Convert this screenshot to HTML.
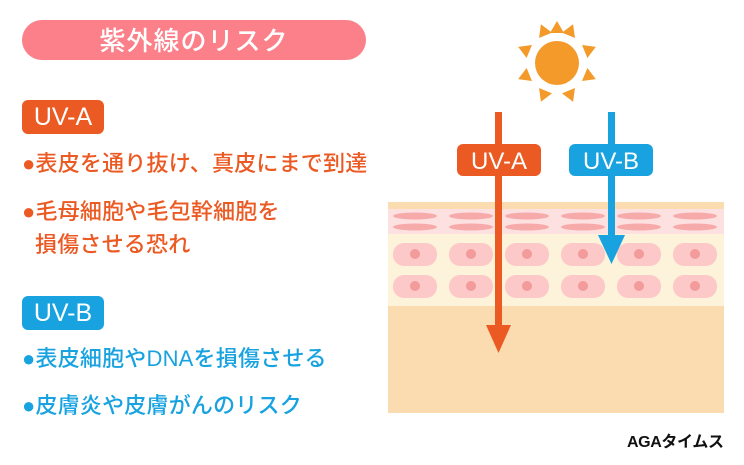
<!DOCTYPE html>
<html><head><meta charset="utf-8"><style>
body{margin:0;width:744px;height:465px;background:#fff;position:relative;overflow:hidden;font-family:"Liberation Sans","Noto Sans CJK JP",sans-serif}
.a{position:absolute;white-space:nowrap}
.t{font-weight:500;font-size:22px;letter-spacing:0.2px}
</style></head><body>
<div class="a" style="left:22px;top:20px;width:344px;height:40px;border-radius:20px;background:#fb8089;color:#fff;font-size:26px;font-weight:500;text-align:center;line-height:40px;letter-spacing:1px;font-family:'Noto Sans CJK JP',sans-serif">紫外線のリスク</div>
<div class="a" style="left:22px;top:100px;width:82px;height:34px;border-radius:6px;background:#ec5a24;color:#fff;font-size:25px;line-height:34px;text-align:center">UV-A</div>
<div class="a t" style="left:22px;top:146px;color:#ec5a24">●表皮を通り抜け、真皮にまで到達</div>
<div class="a t" style="left:22px;top:194px;color:#ec5a24">●毛母細胞や毛包幹細胞を</div>
<div class="a t" style="left:35px;top:227px;color:#ec5a24">損傷させる恐れ</div>
<div class="a" style="left:22px;top:296px;width:82px;height:34px;border-radius:6px;background:#18a3e0;color:#fff;font-size:25px;line-height:34px;text-align:center">UV-B</div>
<div class="a t" style="left:22px;top:341px;color:#18a3e0">●表皮細胞やDNAを損傷させる</div>
<div class="a t" style="left:22px;top:388px;color:#18a3e0">●皮膚炎や皮膚がんのリスク</div>
<svg class="a" style="left:0;top:0" width="744" height="465">
<rect x="388" y="202" width="336" height="211" fill="#fadcb0"/>
<rect x="388" y="209" width="336" height="25" fill="#fde1e1"/>
<rect x="388" y="234" width="336" height="72" fill="#fdf2da"/>
<g fill="#f7aaaa">
<ellipse cx="415" cy="216" rx="22" ry="3.5"/><ellipse cx="471" cy="216" rx="22" ry="3.5"/><ellipse cx="527" cy="216" rx="22" ry="3.5"/><ellipse cx="583" cy="216" rx="22" ry="3.5"/><ellipse cx="639" cy="216" rx="22" ry="3.5"/><ellipse cx="695" cy="216" rx="22" ry="3.5"/>
<ellipse cx="415" cy="227" rx="22" ry="3.5"/><ellipse cx="471" cy="227" rx="22" ry="3.5"/><ellipse cx="527" cy="227" rx="22" ry="3.5"/><ellipse cx="583" cy="227" rx="22" ry="3.5"/><ellipse cx="639" cy="227" rx="22" ry="3.5"/><ellipse cx="695" cy="227" rx="22" ry="3.5"/>
</g>
<g fill="#fdc8c8">
<rect x="393" y="243" width="44" height="23" rx="11"/><rect x="449" y="243" width="44" height="23" rx="11"/><rect x="505" y="243" width="44" height="23" rx="11"/><rect x="561" y="243" width="44" height="23" rx="11"/><rect x="617" y="243" width="44" height="23" rx="11"/><rect x="673" y="243" width="44" height="23" rx="11"/>
<rect x="393" y="275" width="44" height="23" rx="11"/><rect x="449" y="275" width="44" height="23" rx="11"/><rect x="505" y="275" width="44" height="23" rx="11"/><rect x="561" y="275" width="44" height="23" rx="11"/><rect x="617" y="275" width="44" height="23" rx="11"/><rect x="673" y="275" width="44" height="23" rx="11"/>
</g>
<g fill="#f39a9a">
<circle cx="415" cy="254" r="5"/><circle cx="471" cy="254" r="5"/><circle cx="527" cy="254" r="5"/><circle cx="583" cy="254" r="5"/><circle cx="639" cy="254" r="5"/><circle cx="695" cy="254" r="5"/>
<circle cx="415" cy="286" r="5"/><circle cx="471" cy="286" r="5"/><circle cx="527" cy="286" r="5"/><circle cx="583" cy="286" r="5"/><circle cx="639" cy="286" r="5"/><circle cx="695" cy="286" r="5"/>
</g>
<rect x="495" y="112" width="7" height="215" fill="#ec5a24"/>
<polygon points="486,325 511,325 498.5,353" fill="#ec5a24"/>
<rect x="608" y="112" width="7" height="124" fill="#18a3e0"/>
<polygon points="598,235 625,235 611.5,264" fill="#18a3e0"/>
<rect x="457" y="144" width="84" height="32" rx="6" fill="#ec5a24"/>
<text x="499" y="169" fill="#fff" font-size="24" text-anchor="middle" font-family="Liberation Sans,sans-serif">UV-A</text>
<rect x="569" y="144" width="84" height="32" rx="6" fill="#18a3e0"/>
<text x="611" y="169" fill="#fff" font-size="24" text-anchor="middle" font-family="Liberation Sans,sans-serif">UV-B</text>
<g fill="#f39a2a" transform="translate(557,63)">
<circle r="22"/>
<g id="r"><polygon points="-7,-30 7,-30 0,-42"/></g>
<use href="#r" transform="rotate(22.5)"/><use href="#r" transform="rotate(-22.5)"/><use href="#r" transform="rotate(67.5)"/><use href="#r" transform="rotate(112.5)"/><use href="#r" transform="rotate(157.5)"/><use href="#r" transform="rotate(202.5)"/><use href="#r" transform="rotate(247.5)"/><use href="#r" transform="rotate(292.5)"/>
</g>
<text x="627" y="447" font-size="16" font-weight="700" font-family="Liberation Sans,Noto Sans CJK JP,sans-serif" fill="#111" textLength="97">AGAタイムス</text>
</svg>
</body></html>
